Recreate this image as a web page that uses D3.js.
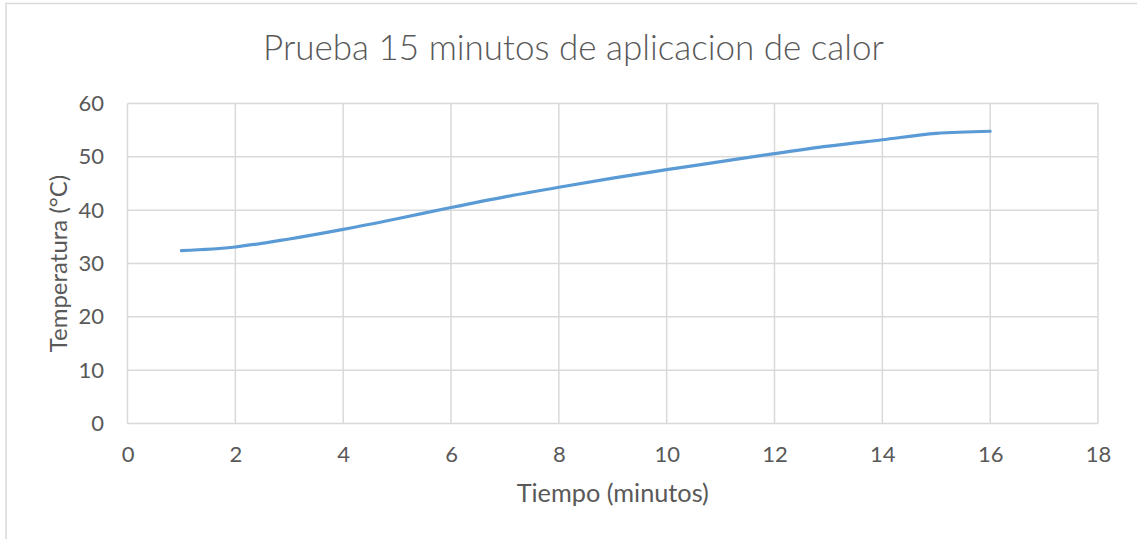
<!DOCTYPE html>
<html>
<head>
<meta charset="utf-8">
<script src="https://cdn.jsdelivr.net/npm/d3@7"></script>
<style>
  html, body { margin: 0; padding: 0; background: #fff; }
  svg { display: block; }
  text { font-family: Lato, "Open Sans", sans-serif; fill: #595959; }
</style>
</head>
<body>
<svg id="chart" width="1137" height="539"></svg>
<script>
// Temperature readings, one per minute
const minutes = [1, 2, 3, 4, 5, 6, 7, 8, 9, 10, 11, 12, 13, 14, 15, 16];
const temperatures = [32.4, 33.1, 34.6, 36.4, 38.4, 40.5, 42.5, 44.3, 46.0, 47.6, 49.1, 50.6, 52.0, 53.2, 54.4, 54.8];
const xTicks = [0, 2, 4, 6, 8, 10, 12, 14, 16, 18];
const yTicks = [0, 10, 20, 30, 40, 50, 60];

const titleText = "Prueba 15 minutos de aplicacion de calor";
const xTitle = "Tiempo (minutos)";
const yTitle = "Temperatura (°C)";

const svg = d3.select("#chart");
const W = 1137, H = 539;
const plot = { left: 127.5, right: 1098, top: 103.5, bottom: 423.5 };

// chart frame
svg.append("rect")
  .attr("x", 6).attr("y", 3.5)
  .attr("width", W + 10).attr("height", H + 10)
  .attr("fill", "#fff").attr("stroke", "#d9d9d9").attr("stroke-width", 1.5);

const x = d3.scaleLinear().domain([0, 18]).range([plot.left, plot.right]);
const y = d3.scaleLinear().domain([0, 60]).range([plot.bottom, plot.top]);

// gridlines
const grid = svg.append("g").attr("stroke", "#d9d9d9").attr("stroke-width", 1.5);
grid.selectAll("line.v").data(xTicks).join("line")
  .attr("x1", d => x(d)).attr("x2", d => x(d))
  .attr("y1", plot.top).attr("y2", plot.bottom);
grid.selectAll("line.h").data(yTicks).join("line")
  .attr("x1", plot.left).attr("x2", plot.right)
  .attr("y1", d => y(d)).attr("y2", d => y(d));

// axes (labels only; rules come from the grid)
const xAxis = svg.append("g")
  .attr("transform", `translate(0,${plot.bottom})`)
  .call(d3.axisBottom(x).tickValues(xTicks).tickSize(0));
xAxis.select(".domain").remove();
xAxis.selectAll("text").style("font-size", "22px").attr("fill", "#595959")
  .attr("dy", null).attr("y", 38.5);

const yAxis = svg.append("g")
  .attr("transform", `translate(${plot.left},0)`)
  .call(d3.axisLeft(y).tickValues(yTicks).tickSize(0).tickPadding(23.5));
yAxis.select(".domain").remove();
yAxis.selectAll("text").style("font-size", "22px").attr("fill", "#595959");

// series line
const line = d3.line()
  .x((d, i) => x(minutes[i]))
  .y(d => y(d))
  .curve(d3.curveCatmullRom.alpha(0.5));
svg.append("path")
  .datum(temperatures)
  .attr("d", line)
  .attr("fill", "none")
  .attr("stroke", "#5b9bd5")
  .attr("stroke-width", 3.2)
  .attr("stroke-linecap", "round");

// titles
svg.append("text")
  .attr("x", 573.5).attr("y", 60)
  .attr("text-anchor", "middle")
  .style("font-size", "35px").style("font-weight", 300)
  .text(titleText);

svg.append("text")
  .attr("x", (plot.left + plot.right) / 2).attr("y", 502)
  .attr("text-anchor", "middle")
  .style("font-size", "25.3px")
  .text(xTitle);

svg.append("text")
  .attr("transform", `translate(66.5,${(plot.top + plot.bottom) / 2}) rotate(-90)`)
  .attr("text-anchor", "middle")
  .style("font-size", "24px")
  .text(yTitle);
</script>
</body>
</html>
